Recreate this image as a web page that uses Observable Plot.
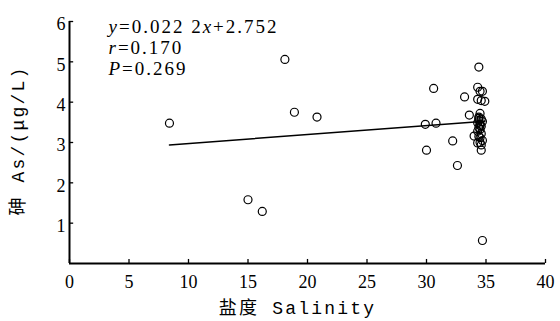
<!DOCTYPE html>
<html><head><meta charset="utf-8">
<script src="https://cdn.jsdelivr.net/npm/d3@7"></script>
<script src="https://cdn.jsdelivr.net/npm/@observablehq/plot@0.6"></script>
<style>body{margin:0;background:#fff}</style>
</head><body><div id="chart"></div>
<script>
const salinity = [8.4, 15.0, 16.2, 18.1, 18.9, 20.8, 34.4, 30.6, 33.2, 33.6, 29.9, 30.8, 32.2, 30.0, 32.6, 34.7, 34.0,
  34.3, 34.5, 34.7, 34.3, 34.9, 34.6, 34.5, 34.4, 34.6, 34.4, 34.7, 34.3, 34.5, 34.6, 34.4, 34.5, 34.3, 34.6, 34.4, 34.5, 34.7, 34.3, 34.6, 34.5, 34.6, 34.4, 34.5];
const arsenic = [3.48, 1.58, 1.29, 5.06, 3.75, 3.63, 4.87, 4.34, 4.13, 3.68, 3.45, 3.48, 3.04, 2.81, 2.43, 0.57, 3.16,
  4.37, 4.27, 4.27, 4.07, 4.02, 4.04, 3.72, 3.63, 3.58, 3.55, 3.52, 3.49, 3.45, 3.40, 3.37, 3.32, 3.28, 3.22, 3.15, 3.12, 3.05, 2.99, 2.94, 3.00, 2.81, 3.60, 3.42];
const xTicks = [0, 5, 10, 15, 20, 25, 30, 35, 40];
const yTicks = [1, 2, 3, 4, 5, 6];
const slope = 0.0222, intercept = 2.752;
const annotation = ["y=0.022 2x+2.752", "r=0.170", "P=0.269"];
const xLabel = "盐度 Salinity";
const yLabel = "砷 As/(μg/L)";

const points = salinity.map((s, i) => ({s, a: arsenic[i]}));
const fit = d3.extent(salinity).map(s => ({s, a: intercept + slope * s}));

const serif = "Liberation Serif, Noto Sans CJK SC, serif";
const mono = "Liberation Mono, Noto Sans CJK SC, monospace";

const chart = Plot.plot({
  width: 560, height: 321,
  marginLeft: 69, marginRight: 15, marginTop: 21, marginBottom: 58,
  style: {fontFamily: serif, fontSize: "18px", color: "#000", background: "#fff"},
  x: {domain: [0, 40]},
  y: {domain: [0, 6]},
  marks: [
    Plot.axisX(xTicks, {tickSize: 0, tickPadding: 12, fontSize: 18, label: null}),
    Plot.axisY(yTicks, {tickSize: 0, tickPadding: 4, dy: 3, fontSize: 18, label: null}),
    Plot.ruleX(xTicks, {x: d => d, y1: 0, y2: 0.1, stroke: "#000", strokeWidth: 1.3}),
    Plot.ruleY(yTicks, {y: d => d, x1: 0, x2: 0.35, stroke: "#000", strokeWidth: 1.3}),
    Plot.ruleY([0], {x1: 0, x2: 40, stroke: "#000", strokeWidth: 2}),
    Plot.ruleX([0], {y1: 0, y2: 6, stroke: "#000", strokeWidth: 2}),
    Plot.line(fit, {x: "s", y: "a", stroke: "#000", strokeWidth: 1.5}),
    Plot.dot(points, {x: "s", y: "a", r: 4, stroke: "#000", strokeWidth: 1.2, fill: "none"}),
    Plot.text([annotation.join("\n")], {frameAnchor: "top-left", dx: 39, dy: -3, textAnchor: "start",
      lineAnchor: "top", lineHeight: 1.1, fontSize: 19, fill: "#000"}),
    Plot.text([xLabel], {frameAnchor: "bottom", dy: 50, dx: -10, textAnchor: "middle", fontSize: 18, fill: "#000"}),
    Plot.text([yLabel], {frameAnchor: "left", dx: -51, dy: -2, rotate: -90, textAnchor: "middle", fontSize: 18, fill: "#000"})
  ]
});
chart.querySelectorAll("text").forEach(t => {
  const s = t.textContent;
  if (s === xLabel || s === yLabel) {
    t.style.fontFamily = mono;
    t.style.letterSpacing = "2.2px";
  } else {
    t.style.fontFamily = serif;
  }
});
// italic variable names in the annotation
chart.querySelectorAll("text tspan").forEach(t => {
  const m = t.textContent.match(/^([yrP])(=.*)$/);
  if (!m) return;
  let html = `<tspan font-style="italic">${m[1]}</tspan>`;
  if (m[2].includes("x")) {
    const [a, b] = m[2].split("x");
    html += `${a}<tspan font-style="italic">x</tspan>${b}`;
  } else html += m[2];
  t.innerHTML = html;
  t.parentNode.style.letterSpacing = "2px";
});
document.getElementById("chart").append(chart);
</script>
</body></html>
